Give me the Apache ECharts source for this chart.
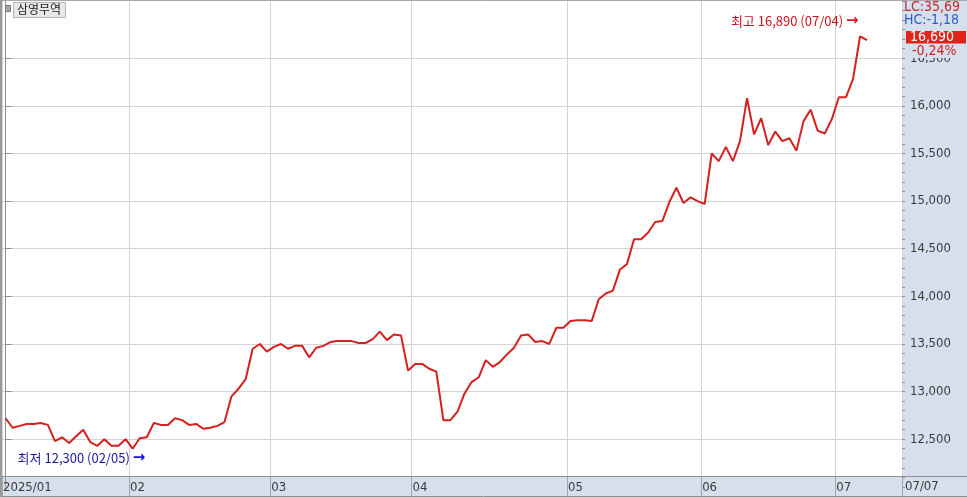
<!DOCTYPE html>
<html><head><meta charset="utf-8">
<script src="https://cdn.jsdelivr.net/npm/echarts@6/dist/echarts.min.js"></script>
<style>html,body{margin:0;padding:0;background:#fff}#c{width:967px;height:497px}</style>
</head><body><div id="c"></div>
<script>
// ---- data ----
const stockName = '삼영무역';
const monthLabels = ['2025/01', '02', '03', '04', '05', '06', '07'];
const tradingDays = [
  [2,3,6,7,8,9,10,13,14,15,16,17,20,21,22,23,24,31],
  [3,4,5,6,7,10,11,12,13,14,17,18,19,20,21,24,25,26,27,28],
  [4,5,6,7,10,11,12,13,14,17,18,19,20,21,24,25,26,27,28,31],
  [1,2,3,4,7,8,9,10,11,14,15,16,17,18,21,22,23,24,25,28,29,30],
  [2,7,8,9,12,13,14,15,16,19,20,21,22,23,26,27,28,29,30],
  [2,4,5,9,10,11,12,13,16,17,18,19,20,23,24,25,26,27,30],
  [1,2,3,4,7]
];
const closes = [
  12720,12620,12640,12660,12660,12670,12650,12480,12520,12460,12530,12600,12470,12430,12500,12430,12430,12500,
  12400,12510,12520,12670,12650,12650,12720,12700,12650,12660,12610,12620,12640,12680,12950,13030,13130,13450,13500,13420,
  13470,13500,13450,13480,13480,13360,13460,13480,13520,13530,13530,13530,13510,13510,13550,13630,13540,13600,13590,13220,
  13290,13290,13240,13210,12700,12700,12790,12980,13100,13150,13330,13260,13310,13390,13460,13590,13600,13520,13530,13500,13670,13670,
  13740,13750,13750,13740,13970,14030,14060,14280,14340,14600,14600,14670,14780,14790,14990,15140,14980,15040,15000,
  14970,15500,15420,15570,15420,15630,16080,15700,15870,15590,15730,15630,15660,15530,15840,15960,15740,15710,15860,
  16090,16090,16280,16730,16690
];
const yTicks = [12500, 13000, 13500, 14000, 14500, 15000, 15500, 16000, 16500];
const highValue = 16890, highDate = '07/04';
const lowValue = 12300, lowDate = '02/05';
const lcText = 'LC:35,69';
const hcText = 'HC:-1,18';

// ---- derived ----
const dates = [];
tradingDays.forEach((days, m) => days.forEach(d => dates.push(String(m + 1).padStart(2, '0') + '/' + String(d).padStart(2, '0'))));
const monthStarts = [];
{ let acc = 0; tradingDays.forEach(days => { monthStarts.push(acc - 0.5); acc += days.length; }); }

const BAND = 7.062;             // px per trading day
const PLOT_W = 900;
const xMin = -0.5, xMax = -0.5 + PLOT_W / BAND;
const yMin = 12000, yMax = 12000 + 486.8 / 0.09523;

const last = closes[closes.length - 1], prev = closes[closes.length - 2];
const pct = ((last - prev) / prev * 100).toFixed(2).replace('.', ',');
const fmt = v => v.toLocaleString('en-US');

const FONT = "'Liberation Sans Narrow','DejaVu Sans Condensed','Liberation Sans','Noto Sans CJK KR',sans-serif";
const KFONT = "'Liberation Sans Narrow','Noto Sans CJK KR',sans-serif";
const PANEL = '#d6e0ec';
const BORDER = '#8f8f8f';
const GRID = '#d4d4d4';

const chart = echarts.init(document.getElementById('c'));
chart.setOption({
  animation: false,
  backgroundColor: '#fff',
  grid: { left: 2, right: 65, top: 0, bottom: 10.2 },
  xAxis: {
    type: 'value', min: xMin, max: xMax, offset: -9.8,
    axisLine: { show: false },
    axisTick: { show: true, customValues: monthStarts.concat([xMax]), length: 19, lineStyle: { color: '#a5a5a5' } },
    axisLabel: {
      customValues: monthStarts, align: 'left', margin: 4, padding: [0, 0, 0, 1],
      color: '#3a3a3a', fontSize: 13, fontFamily: FONT,
      formatter: v => { const k = monthStarts.findIndex(s => Math.abs(s - v) < 1e-6); return k >= 0 ? monthLabels[k] : ''; }
    },
    splitLine: { show: true, lineStyle: { color: GRID, width: 1 } }
  },
  yAxis: [{
    type: 'value', position: 'right', min: yMin, max: yMax, interval: 500,
    axisLine: { show: true, lineStyle: { color: BORDER } },
    axisTick: { show: true, customValues: yTicks, length: 6, lineStyle: { color: BORDER } },
    axisLabel: { customValues: yTicks, margin: 8, color: '#3a3a3a', fontSize: 13, fontFamily: FONT, formatter: v => fmt(v) },
    splitLine: { show: true, lineStyle: { color: GRID, width: 1 } }
  }, {
    type: 'value', position: 'right', min: yMin, max: yMax, interval: 100,
    axisLine: { show: false },
    axisTick: { show: true, length: 3, lineStyle: { color: BORDER } },
    axisLabel: { show: false },
    splitLine: { show: false }
  }],
  series: [{
    type: 'line', yAxisIndex: 0, z: 5,
    data: closes.map((v, i) => [i, v]),
    symbol: 'none',
    lineStyle: { color: '#d61f1f', width: 2 },
    markPoint: {
      symbol: 'circle', symbolSize: 1, itemStyle: { color: 'rgba(0,0,0,0)' },
      label: { show: true, position: 'left', distance: 1, fontSize: 13, fontFamily: KFONT },
      data: [
        { coord: [dates.indexOf(highDate), highValue],
          label: { formatter: '{t|최고 ' + fmt(highValue) + ' (' + highDate + ')} {a|→}',
                   rich: { t: { color: '#c8141e', fontSize: 13, fontFamily: KFONT }, a: { color: '#e0141e', fontSize: 15, fontWeight: 'bold', fontFamily: 'DejaVu Sans' } } } },
        { coord: [dates.indexOf(lowDate), lowValue],
          label: { formatter: '{t|최저 ' + fmt(lowValue) + ' (' + lowDate + ')} {a|→}',
                   rich: { t: { color: '#1a1aa0', fontSize: 13, fontFamily: KFONT }, a: { color: '#1010e0', fontSize: 15, fontWeight: 'bold', fontFamily: 'DejaVu Sans' } } } }
      ]
    }
  }],
  graphic: [
    { type: 'rect', z: -10, shape: { x: 902, y: 0, width: 65, height: 497 }, style: { fill: PANEL } },
    { type: 'rect', z: -10, shape: { x: 0, y: 477, width: 967, height: 19 }, style: { fill: PANEL } },
    { type: 'line', z: 50, shape: { x1: 0, y1: 476.5, x2: 967, y2: 476.5 }, style: { stroke: BORDER, lineWidth: 1 } },
    { type: 'line', z: 50, shape: { x1: 0, y1: 496.5, x2: 967, y2: 496.5 }, style: { stroke: BORDER, lineWidth: 1 } },
    { type: 'line', z: 50, shape: { x1: 0, y1: 0.5, x2: 967, y2: 0.5 }, style: { stroke: '#a8a8a8', lineWidth: 1 } },
    { type: 'line', z: 50, shape: { x1: 1, y1: 0, x2: 1, y2: 497 }, style: { stroke: '#9a9a9a', lineWidth: 2 } },
    // legend
    { type: 'rect', z: 60, shape: { x: 5.5, y: 5.5, width: 5, height: 6 }, style: { fill: '#a8a8a8', stroke: '#7a7a7a', lineWidth: 1 } },
    { type: 'rect', z: 60, shape: { x: 13.5, y: 2.5, width: 52, height: 15 }, style: { fill: '#e8e8e8', stroke: '#b4b4b4', lineWidth: 1 } },
    { type: 'text', z: 61, x: 17, y: 3, style: { text: stockName, fill: '#222', font: "12px 'Noto Sans CJK KR', sans-serif" } },
    // right panel info
    { type: 'text', z: 60, x: 904, y: 0, style: { text: lcText, fill: '#c8282c', font: "14px " + FONT } },
    { type: 'text', z: 60, x: 904, y: 13, style: { text: hcText, fill: '#2a5ccc', font: "14px " + FONT } },
    { type: 'rect', z: 60, shape: { x: 906, y: 31, width: 60, height: 12.5 }, style: { fill: '#e2231a' } },
    { type: 'text', z: 61, x: 910, y: 30, style: { text: fmt(last), fill: '#fff', font: "14px " + FONT } },
    { type: 'text', z: 60, x: 910, y: 44, style: { text: pct + '%', fill: '#d41e1e', font: "14px " + FONT, backgroundColor: PANEL, padding: [0, 4, 0, 2] } },
    { type: 'text', z: 60, x: 905, y: 480, style: { text: dates[dates.length - 1], fill: '#3a3a3a', font: "13px " + FONT } }
  ]
});
</script></body></html>
